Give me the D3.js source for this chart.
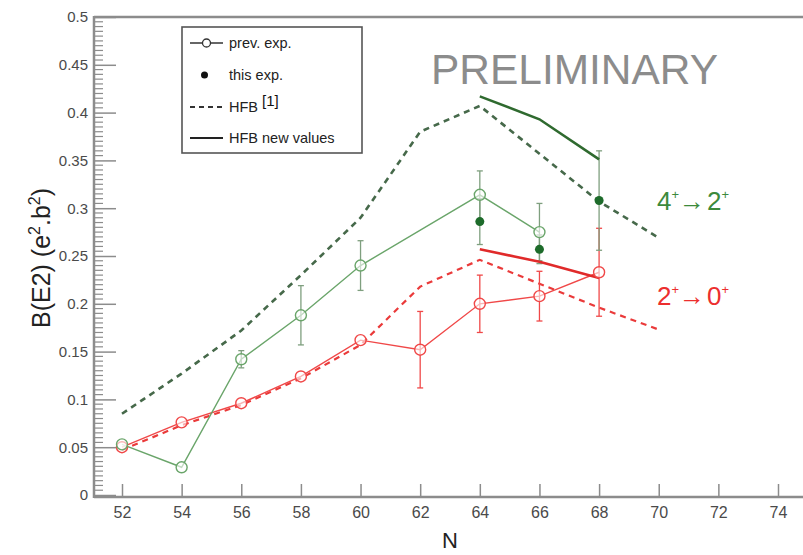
<!DOCTYPE html>
<html>
<head>
<meta charset="utf-8">
<script src="https://cdn.jsdelivr.net/npm/d3@7"></script>
<style>
  html, body { margin: 0; padding: 0; background: #fff; }
  svg { display: block; font-family: "Liberation Sans", Arial, sans-serif; }
</style>
</head>
<body>
<svg id="chart" width="803" height="555"></svg>
<script>
// Neutron numbers (x ticks) and y ticks
const xTicks = [52, 54, 56, 58, 60, 62, 64, 66, 68, 70, 72, 74];
const yTicks = [0, 0.05, 0.1, 0.15, 0.2, 0.25, 0.3, 0.35, 0.4, 0.45, 0.5];

// 4+ -> 2+ previous experiments
const prev42N   = [52, 54, 56, 58, 60, 64, 66];
const prev42B   = [0.053, 0.029, 0.142, 0.188, 0.240, 0.314, 0.275];
const prev42Err = [0.003, 0.003, 0.009, 0.031, 0.026, 0.025, 0.030];

// 2+ -> 0+ previous experiments
const prev20N   = [52, 54, 56, 58, 60, 62, 64, 66, 68];
const prev20B   = [0.050, 0.076, 0.096, 0.124, 0.162, 0.152, 0.200, 0.208, 0.233];
const prev20Err = [0.004, 0.004, 0.004, 0.004, 0.004, 0.040, 0.030, 0.026, 0.046];

// 4+ -> 2+ this experiment
const this42N   = [64, 66, 68];
const this42B   = [0.286, 0.257, 0.308];
const this42Err = [0.024, 0.015, 0.052];

// HFB [1] calculations
const hfbN    = [52, 54, 56, 58, 60, 62, 64, 66, 68, 70];
const hfb42B  = [0.085, 0.127, 0.172, 0.230, 0.290, 0.380, 0.407, 0.357, 0.307, 0.269];
const hfb20B  = [0.047, 0.073, 0.094, 0.122, 0.157, 0.218, 0.246, 0.221, 0.196, 0.173];

// HFB new values
const hfbNewN   = [64, 66, 68];
const hfbNew42B = [0.417, 0.393, 0.351];
const hfbNew20B = [0.257, 0.244, 0.227];

const svg = d3.select("#chart");

const x = d3.scaleLinear().domain([52, 74]).range([122, 778]);
const y = d3.scaleLinear().domain([0, 0.5]).range([495, 17]);

const axisColor = "#8c8c8c";
const textColor = "#4a4a4a";
const green = "#6aa56a";
const greenErr = "#7f9f7f";
const greenDash = "#46694a";
const greenNew = "#2f6a2f";
const greenDot = "#1d6b2a";
const red = "#f04848";
const redDash = "#ea3a3a";
const redNew = "#e02a2a";

// Frame: top and left lines, bottom axis line
const xLeft = 94, xRight = 803;
svg.append("line").attr("x1", xLeft).attr("x2", xRight).attr("y1", y(0.5)).attr("y2", y(0.5))
  .attr("stroke", axisColor).attr("stroke-width", 2.5);
svg.append("line").attr("x1", xLeft).attr("x2", xLeft).attr("y1", y(0.5) - 1).attr("y2", 498)
  .attr("stroke", axisColor).attr("stroke-width", 2.5);
svg.append("line").attr("x1", xLeft).attr("x2", xRight).attr("y1", 497).attr("y2", 497)
  .attr("stroke", axisColor).attr("stroke-width", 2.5);

// Y axis (ticks pointing inward)
const yAxis = d3.axisLeft(y).tickValues(yTicks).tickSize(-22).tickPadding(6)
  .tickFormat(d => d === 0 ? "0" : d3.format("~g")(d));
const gy = svg.append("g").attr("transform", `translate(${xLeft},0)`).call(yAxis);
gy.select(".domain").remove();
gy.selectAll(".tick line").attr("stroke", axisColor).attr("stroke-width", 1.5);
gy.selectAll(".tick text").attr("x", -6).attr("fill", textColor)
  .style("font-size", "15px").style("font-family", "Liberation Sans, Arial, sans-serif");

// Y minor ticks every 0.005
const minor = d3.range(0, 0.5001, 0.005).filter(v => Math.abs(v / 0.05 - Math.round(v / 0.05)) > 1e-6);
svg.append("g").selectAll("line").data(minor).join("line")
  .attr("x1", xLeft).attr("x2", xLeft + 9)
  .attr("y1", d => y(d)).attr("y2", d => y(d))
  .attr("stroke", axisColor).attr("stroke-width", 1.2);

// X axis (ticks pointing inward)
const xAxis = d3.axisBottom(x).tickValues(xTicks).tickSize(-13).tickPadding(7);
const gx = svg.append("g").attr("transform", "translate(0,497)").call(xAxis);
gx.select(".domain").remove();
gx.selectAll(".tick line").attr("stroke", axisColor).attr("stroke-width", 1.5);
gx.selectAll(".tick text").attr("y", 10).attr("fill", textColor)
  .style("font-size", "16px").style("font-family", "Liberation Sans, Arial, sans-serif");

// Axis titles
svg.append("text").attr("x", 450).attr("y", 548).attr("text-anchor", "middle")
  .attr("fill", "#222").style("font-size", "22px").text("N");
const yTitle = svg.append("text").attr("transform", "translate(50,258) rotate(-90)")
  .attr("text-anchor", "middle").attr("fill", "#222").style("font-size", "25px");
yTitle.append("tspan").text("B(E2) (e");
yTitle.append("tspan").attr("dy", -10).style("font-size", "16px").text("2");
yTitle.append("tspan").attr("dy", 10).text(".b");
yTitle.append("tspan").attr("dy", -10).style("font-size", "16px").text("2");
yTitle.append("tspan").attr("dy", 10).text(")");

const line = d3.line().x(d => x(d[0])).y(d => y(d[1]));
const zip = (a, b) => a.map((v, i) => [v, b[i]]);

// HFB [1] dashed curves
svg.append("path").attr("d", line(zip(hfbN, hfb42B))).attr("fill", "none")
  .attr("stroke", greenDash).attr("stroke-width", 2.6).attr("stroke-dasharray", "6,5");
svg.append("path").attr("d", line(zip(hfbN, hfb20B))).attr("fill", "none")
  .attr("stroke", redDash).attr("stroke-width", 2.2).attr("stroke-dasharray", "6,5");

// Error bars helper
function errBars(N, B, E, color, w) {
  const g = svg.append("g").attr("stroke", color).attr("stroke-width", w);
  N.forEach((n, i) => {
    if (E[i] < 0.006) return;
    const cx = x(n), y0 = y(B[i] - E[i]), y1 = y(B[i] + E[i]);
    g.append("line").attr("x1", cx).attr("x2", cx).attr("y1", y0).attr("y2", y1);
    g.append("line").attr("x1", cx - 3).attr("x2", cx + 3).attr("y1", y0).attr("y2", y0);
    g.append("line").attr("x1", cx - 3).attr("x2", cx + 3).attr("y1", y1).attr("y2", y1);
  });
}

// Previous experiments: 2+ -> 0+
errBars(prev20N, prev20B, prev20Err, red, 1.3);
svg.append("path").attr("d", line(zip(prev20N, prev20B))).attr("fill", "none")
  .attr("stroke", red).attr("stroke-width", 1.4);

// Previous experiments: 4+ -> 2+
errBars(prev42N, prev42B, prev42Err, greenErr, 1.3);
errBars(this42N, this42B, this42Err, greenErr, 1.3);
svg.append("path").attr("d", line(zip(prev42N, prev42B))).attr("fill", "none")
  .attr("stroke", green).attr("stroke-width", 1.4);

// HFB new values
svg.append("path").attr("d", line(zip(hfbNewN, hfbNew42B))).attr("fill", "none")
  .attr("stroke", greenNew).attr("stroke-width", 2.6);
svg.append("path").attr("d", line(zip(hfbNewN, hfbNew20B))).attr("fill", "none")
  .attr("stroke", redNew).attr("stroke-width", 2.6);

// Open circle markers
svg.append("g").selectAll("circle").data(zip(prev20N, prev20B)).join("circle")
  .attr("cx", d => x(d[0])).attr("cy", d => y(d[1])).attr("r", 5.5)
  .attr("fill", "#fff").attr("fill-opacity", 0.6).attr("stroke", red).attr("stroke-width", 1.4);
svg.append("g").selectAll("circle").data(zip(prev42N, prev42B)).join("circle")
  .attr("cx", d => x(d[0])).attr("cy", d => y(d[1])).attr("r", 5.5)
  .attr("fill", "#fff").attr("fill-opacity", 0.6).attr("stroke", green).attr("stroke-width", 1.4);

// This experiment: filled dots
svg.append("g").selectAll("circle").data(zip(this42N, this42B)).join("circle")
  .attr("cx", d => x(d[0])).attr("cy", d => y(d[1])).attr("r", 4.5)
  .attr("fill", greenDot);

// Transition labels
function transLabel(xp, yp, a, b, color) {
  const t = svg.append("text").attr("x", xp).attr("y", yp).attr("fill", color)
    .style("font-size", "26px");
  t.append("tspan").text(a);
  t.append("tspan").attr("dy", -11).style("font-size", "13px").text("+");
  t.append("tspan").attr("dy", 11).text("\u2192");
  t.append("tspan").attr("dx", 2).text(b);
  t.append("tspan").attr("dy", -11).style("font-size", "13px").text("+");
}
transLabel(657, 210, "4", "2", "#3c8a3c");
transLabel(657, 305, "2", "0", "#ec2e2e");

// PRELIMINARY stamp
svg.append("text").attr("x", 431).attr("y", 84).attr("fill", "#8c8c8c")
  .attr("textLength", 287).attr("lengthAdjust", "spacingAndGlyphs")
  .style("font-size", "42px").text("PRELIMINARY");

// Legend
const lg = svg.append("g");
lg.append("rect").attr("x", 182).attr("y", 27).attr("width", 180).attr("height", 126)
  .attr("fill", "#fff").attr("stroke", "#555").attr("stroke-width", 1.6);
const lx0 = 190, lx1 = 223, tx = 229;
const rows = [43, 75, 107, 138];
lg.append("line").attr("x1", lx0).attr("x2", lx1).attr("y1", rows[0]).attr("y2", rows[0])
  .attr("stroke", "#333").attr("stroke-width", 1.3);
lg.append("circle").attr("cx", (lx0 + lx1) / 2).attr("cy", rows[0]).attr("r", 4)
  .attr("fill", "#fff").attr("stroke", "#333").attr("stroke-width", 1.3);
lg.append("circle").attr("cx", (lx0 + lx1) / 2 - 2).attr("cy", rows[1]).attr("r", 3.5).attr("fill", "#111");
lg.append("line").attr("x1", lx0).attr("x2", lx1).attr("y1", rows[2]).attr("y2", rows[2])
  .attr("stroke", "#333").attr("stroke-width", 2.2).attr("stroke-dasharray", "5,4");
lg.append("line").attr("x1", lx0).attr("x2", lx1).attr("y1", rows[3]).attr("y2", rows[3])
  .attr("stroke", "#222").attr("stroke-width", 2);
const legendTexts = ["prev. exp.", "this exp.", "HFB", "HFB new values"];
legendTexts.forEach((s, i) => {
  lg.append("text").attr("x", tx).attr("y", rows[i] + 5).attr("fill", "#222")
    .style("font-size", "14.5px").text(s);
});
lg.append("text").attr("x", 262).attr("y", rows[2] - 1).attr("fill", "#111")
  .style("font-size", "15px").text("[1]");
</script>
</body>
</html>
